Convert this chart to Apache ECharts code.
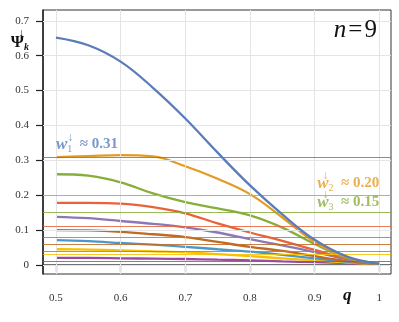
<!DOCTYPE html>
<html>
<head>
<meta charset="UTF-8">
<title>psi k down, n=9</title>
<script src="https://cdn.jsdelivr.net/npm/echarts@6/dist/echarts.min.js"></script>
<style>
html, body { margin: 0; padding: 0; background: #fff; }
#main { width: 399px; height: 322px; }
</style>
</head>
<body>
<div id="main"></div>
<script>
// q grid
var q = [0.5, 0.55, 0.6, 0.65, 0.7, 0.75, 0.8, 0.85, 0.9, 0.95, 1.0];

// psi_k curves
var psi1 = [0.652, 0.630, 0.583, 0.508, 0.420, 0.322, 0.228, 0.145, 0.072, 0.024, 0.003];
var psi2 = [0.309, 0.312, 0.315, 0.311, 0.283, 0.247, 0.203, 0.136, 0.066, 0.022, 0.003];
var psi3 = [0.260, 0.256, 0.237, 0.205, 0.180, 0.162, 0.142, 0.107, 0.060, 0.020, 0.003];
var psi4 = [0.178, 0.178, 0.176, 0.166, 0.148, 0.119, 0.093, 0.069, 0.043, 0.018, 0.003];
var psi5 = [0.138, 0.134, 0.126, 0.118, 0.108, 0.093, 0.074, 0.056, 0.037, 0.016, 0.003];
var psi6 = [0.100, 0.099, 0.095, 0.088, 0.080, 0.066, 0.052, 0.040, 0.025, 0.011, 0.003];
var psi7 = [0.071, 0.068, 0.063, 0.058, 0.052, 0.045, 0.038, 0.029, 0.019, 0.009, 0.003];
var psi8 = [0.045, 0.044, 0.042, 0.039, 0.036, 0.031, 0.025, 0.019, 0.013, 0.007, 0.003];
var psi9 = [0.020, 0.020, 0.019, 0.018, 0.017, 0.015, 0.013, 0.010, 0.008, 0.005, 0.003];

// weights w_k (horizontal lines)
var weights = [0.314, 0.203, 0.148, 0.112, 0.083, 0.061, 0.043, 0.027, 0.012];
var wText = ['0.31', '0.20', '0.15'];

var xTicks = [0.5, 0.6, 0.7, 0.8, 0.9, 1];
var yTicks = [0, 0.1, 0.2, 0.3, 0.4, 0.5, 0.6, 0.7];

var colors = ['#5a7dba', '#e49b24', '#88ae3a', '#e8633a', '#8b78b5',
              '#c06a22', '#4a98c9', '#f8c000', '#9c4a9a'];

var serif = '"Liberation Serif", "DejaVu Serif", serif';

var curves = [psi1, psi2, psi3, psi4, psi5, psi6, psi7, psi8, psi9];

function pairs(ys) {
	var out = [];
	for (var i = 0; i < q.length; i++) out.push([q[i], ys[i]]);
	return out;
}

// rich text w_k^down ≈ value (arrow stacked over the index)
function wRich(color) {
	return {
		w: { fontFamily: serif, fontStyle: 'italic', fontWeight: 'bold', fontSize: 17, color: color, verticalAlign: 'middle' },
		a: { fontFamily: serif, fontSize: 12, color: color, verticalAlign: 'middle', width: 0, padding: [0, 0, 14, 0] },
		s: { fontFamily: serif, fontSize: 10, color: color, verticalAlign: 'middle', padding: [10, 0, 0, 0] },
		v: { fontFamily: serif, fontWeight: 'bold', fontSize: 15, color: color, verticalAlign: 'middle' }
	};
}

var series = [];

// light grid
series.push({
	type: 'line',
	data: [],
	silent: true,
	z: 0,
	markLine: {
		silent: true,
		symbol: ['none', 'none'],
		label: { show: false },
		lineStyle: { color: '#e4e4e4', width: 1, type: 'solid' },
		data: yTicks.map(function (v) { return { yAxis: v }; })
			.concat(xTicks.map(function (v) { return { xAxis: v }; }))
	}
});

// weight lines
series.push({
	type: 'line',
	data: [],
	silent: true,
	z: 1,
	markLine: {
		silent: true,
		symbol: ['none', 'none'],
		label: { show: false },
		data: weights.map(function (w, i) {
			return { yAxis: w, lineStyle: { color: colors[i], width: 1.2, opacity: 0.85, type: 'solid' } };
		})
	}
});

// curves, last drawn on top, blue on top of all
for (var k = curves.length - 1; k >= 0; k--) {
	series.push({
		name: 'psi' + (k + 1),
		type: 'line',
		data: pairs(curves[k]),
		smooth: 0.4,
		showSymbol: false,
		z: k === 0 ? 5 : 3,
		lineStyle: { color: colors[k], width: 2.3 },
		itemStyle: { color: colors[k] }
	});
}

// w labels
var labelPos = [[0.5, 'left'], [1.0, 'right'], [1.0, 'right']];
series.push({
	type: 'scatter',
	symbolSize: 0,
	silent: true,
	z: 6,
	data: wText.map(function (t, i) {
		return {
			value: [labelPos[i][0], weights[i]],
			label: {
				show: true,
				position: [0, -11],
				align: labelPos[i][1],
				verticalAlign: 'middle',
				formatter: '{w|w}{a|↓}{s|' + (i + 1) + '}{v|  ≈ ' + t + '}',
				rich: wRich(colors[i])
			}
		};
	})
});

var chart = echarts.init(document.getElementById('main'));
chart.setOption({
	animation: false,
	title: {
		text: '{n|n}{e|\u200a=\u200a9}',
		right: 17,
		top: 13,
		textStyle: {
			fontWeight: 'normal',
			rich: {
				n: { fontFamily: serif, fontStyle: 'italic', fontWeight: 'normal', fontSize: 25, color: '#111' },
				e: { fontFamily: serif, fontWeight: 'normal', fontSize: 25, color: '#111' }
			}
		}
	},
	grid: {
		left: 43, right: 8, top: 10, bottom: 48,
		outerBoundsMode: 'none',
		show: true, borderColor: '#333', borderWidth: 1
	},
	xAxis: {
		type: 'value',
		min: 0.48,
		max: 1.018,
		name: '{q|q}',
		nameLocation: 'end',
		nameGap: -48,
		nameMoveOverlap: false,
		nameTextStyle: {
			verticalAlign: 'top',
			padding: [22, 0, 0, 0],
			rich: { q: { fontFamily: serif, fontStyle: 'italic', fontWeight: 'bold', fontSize: 17, color: '#111' } }
		},
		axisLine: { lineStyle: { color: '#444', width: 1.5 } },
		axisTick: { customValues: xTicks, length: 7, lineStyle: { color: '#222', width: 1.2 } },
		axisLabel: {
			customValues: xTicks,
			margin: 19,
			fontFamily: serif,
			fontSize: 11,
			color: '#333'
		},
		splitLine: { show: false }
	},
	yAxis: {
		type: 'value',
		min: -0.026,
		max: 0.731,
		name: '{p|Ψ}{a|↓}{k|k}',
		nameLocation: 'end',
		nameGap: -47,
		nameMoveOverlap: false,
		nameTextStyle: {
			align: 'right',
			padding: [0, 14, 0, 0],
			rich: {
				p: { fontFamily: serif, fontWeight: 'bold', fontSize: 17, color: '#111', verticalAlign: 'middle' },
				a: { fontFamily: serif, fontSize: 11, color: '#111', verticalAlign: 'middle', width: 0, padding: [0, 0, 18, 0] },
				k: { fontFamily: serif, fontStyle: 'italic', fontWeight: 'bold', fontSize: 10, color: '#111', verticalAlign: 'middle', padding: [9, 0, 0, 0] }
			}
		},
		axisLine: { show: true, lineStyle: { color: '#222', width: 1.5 } },
		axisTick: { show: true, customValues: yTicks, length: 7, lineStyle: { color: '#222', width: 1.2 } },
		axisLabel: {
			customValues: yTicks,
			margin: 14,
			fontFamily: serif,
			fontSize: 11,
			color: '#333'
		},
		splitLine: { show: false }
	},
	series: series
});
</script>
</body>
</html>
